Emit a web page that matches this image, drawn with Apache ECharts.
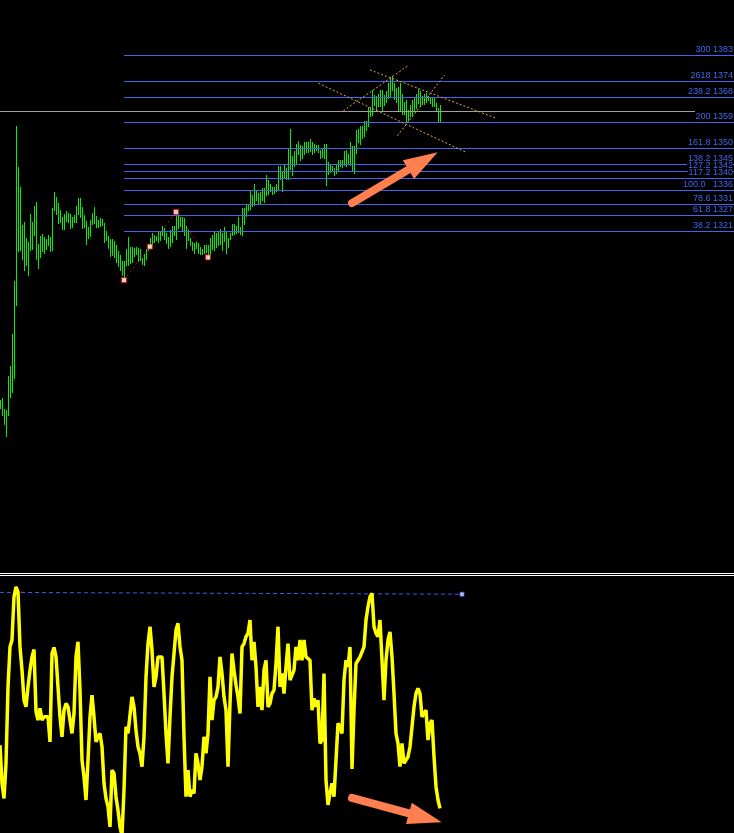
<!DOCTYPE html>
<html><head><meta charset="utf-8">
<script src="https://cdn.jsdelivr.net/npm/echarts@6/dist/echarts.min.js"></script>
<style>html,body{margin:0;padding:0;background:#000;overflow:hidden}#c{width:734px;height:833px}</style>
</head><body><div id="c"></div>
<script>
// ---- main price bars (one per bar, high / low) ----
const barHigh = [
1261.6,1262.3,1258.4,1258.1,1270.0,1273.6,1284.8,1303.5,1358.1,1343.6,
1336.6,1323.2,1324.3,1318.6,1317.2,1327.1,1324.3,1329.9,1331.3,1316.5,
1319.3,1320.0,1319.0,1318.3,1319.7,1319.0,1329.2,1334.8,1333.1,1330.9,
1328.5,1326.0,1327.1,1328.1,1327.4,1327.1,1326.0,1326.7,1329.9,1332.7,
1332.7,1329.5,1326.7,1324.6,1322.5,1325.0,1327.4,1329.5,1326.4,1325.0,
1325.7,1325.3,1323.9,1321.1,1319.3,1318.3,1318.3,1317.6,1316.2,1314.1,
1312.6,1310.5,1310.5,1314.8,1319.0,1315.5,1315.5,1315.1,1315.5,1315.1,
1314.8,1311.6,1313.0,1314.8,1316.2,1318.6,1320.4,1319.7,1319.3,1320.7,
1320.7,1322.8,1322.1,1320.4,1319.0,1321.4,1322.8,1322.8,1327.1,1327.4,
1326.0,1326.0,1325.7,1322.8,1321.4,1318.6,1317.2,1316.9,1317.2,1316.9,
1315.5,1314.8,1316.2,1316.2,1316.2,1318.6,1319.7,1321.1,1320.4,1320.7,
1321.8,1320.4,1322.5,1320.7,1318.6,1320.4,1323.6,1323.6,1322.8,1326.0,
1322.5,1329.2,1329.2,1330.6,1330.6,1335.5,1333.8,1337.6,1335.5,1334.5,
1334.8,1336.2,1336.2,1340.8,1339.0,1337.6,1336.6,1336.6,1337.6,1344.0,
1344.0,1341.9,1344.3,1343.3,1350.0,1357.0,1347.5,1349.2,1351.7,1352.8,
1351.4,1351.0,1352.4,1352.4,1352.4,1353.5,1352.4,1351.7,1351.4,1351.4,
1349.6,1350.0,1351.7,1351.7,1345.4,1344.7,1344.0,1343.3,1344.3,1346.1,
1346.1,1346.1,1349.2,1349.6,1348.2,1352.4,1351.0,1351.0,1356.6,1357.0,
1358.1,1358.1,1359.8,1359.8,1364.7,1364.4,1370.7,1369.0,1368.6,1369.3,
1370.7,1370.7,1369.0,1370.4,1373.2,1374.9,1375.6,1373.2,1371.4,1371.8,
1373.2,1369.3,1366.5,1367.2,1363.7,1365.4,1367.2,1367.9,1369.3,1371.1,
1370.4,1368.6,1369.3,1369.7,1368.6,1368.3,1368.3,1367.9,1366.1,1364.4,
1365.4];
const barLow = [
1258.8,1256.3,1253.2,1248.9,1256.3,1262.7,1264.4,1269.3,1295.0,1314.1,
1314.4,1311.2,1307.4,1309.1,1305.6,1314.4,1314.8,1319.7,1311.2,1308.1,
1311.9,1314.1,1313.3,1314.8,1316.2,1314.1,1314.4,1328.5,1327.1,1323.9,
1324.3,1321.8,1321.8,1324.6,1324.3,1322.1,1322.5,1324.3,1324.3,1327.1,
1326.0,1322.1,1322.5,1316.5,1318.6,1319.3,1323.6,1323.9,1322.5,1322.5,
1322.8,1323.2,1317.2,1317.9,1315.1,1312.3,1312.6,1311.9,1310.2,1308.8,
1307.4,1305.6,1303.8,1309.1,1309.1,1309.8,1310.2,1312.3,1313.0,1310.5,
1310.9,1309.5,1309.1,1311.2,1314.4,1315.1,1316.2,1317.2,1317.9,1317.2,
1317.9,1319.7,1318.3,1316.9,1315.1,1315.8,1317.2,1319.7,1318.3,1322.1,
1322.8,1321.4,1319.7,1315.1,1317.9,1316.2,1314.4,1313.3,1315.1,1313.3,
1313.0,1313.0,1313.3,1313.7,1311.2,1312.6,1314.8,1314.4,1315.5,1316.2,
1316.5,1314.4,1317.6,1313.3,1315.5,1318.3,1319.7,1320.0,1320.4,1320.7,
1320.0,1319.7,1323.6,1326.4,1328.5,1328.8,1329.9,1330.2,1332.0,1330.6,
1330.9,1332.0,1331.3,1333.8,1334.1,1335.2,1334.1,1334.5,1335.2,1335.9,
1339.4,1335.2,1340.1,1339.4,1339.4,1342.9,1340.8,1344.0,1344.7,1348.2,
1346.1,1346.8,1348.2,1348.9,1348.9,1349.2,1348.2,1348.9,1349.6,1348.9,
1346.8,1347.1,1346.8,1337.3,1341.2,1341.9,1342.2,1340.8,1341.5,1342.6,
1344.0,1343.6,1344.3,1344.0,1345.0,1344.3,1342.6,1341.5,1348.5,1352.4,
1351.7,1353.8,1354.5,1356.6,1358.1,1361.6,1361.9,1365.4,1363.7,1365.1,
1365.1,1363.7,1365.4,1366.5,1367.9,1368.3,1370.7,1367.6,1366.5,1363.3,
1363.3,1362.3,1362.3,1359.5,1360.2,1361.6,1361.9,1363.7,1364.4,1366.1,
1365.1,1365.8,1365.8,1366.5,1367.2,1366.1,1365.1,1365.1,1363.3,1359.5,
1359.5];

// ---- oscillator (lower pane) ----
const indValues = [
34.3,19.4,13.5,27.2,57.1,72.7,75.4,92.3,96.2,94.2,
72.7,63.6,51.9,49.3,57.1,63.6,68.8,71.7,47.4,44.1,
48.7,44.1,45.4,45.4,45.4,35.6,70.1,72.5,68.8,57.1,
45.4,37.6,48.0,50.6,49.3,44.1,38.9,46.7,68.8,74.7,
55.8,28.5,22.0,12.9,28.5,45.4,53.9,45.4,35.6,37.6,
38.9,33.7,19.4,13.5,10.3,2.4,24.6,23.3,14.2,8.9,
2.4,-1,16.8,41.5,38.9,38.9,53.2,49.3,40.2,33.7,
31.1,25.9,37.6,61.0,74.0,80.6,71.4,57.1,61.0,68.8,
69.5,68.8,54.5,38.9,27.2,45.4,61.0,70.1,79.3,81.9,
72.7,67.5,37.6,14.2,24.6,14.2,16.8,15.5,31.1,27.2,
20.7,25.9,37.6,31.1,38.9,61.0,44.1,51.9,53.2,57.1,
68.8,62.3,53.2,48.0,25.9,50.6,70.1,63.6,57.8,53.2,
46.7,72.7,74.0,76.7,78.0,83.2,
67.5,74.7,64.9,49.3,57.1,48.0,63.6,67.5,49.3,50.6,
54.5,55.8,66.2,80.6,57.1,62.3,54.5,64.9,74.0,59.7,
59.7,63.6,72.7,67.5,75.4,67.5,75.4,68.8,68.8,67.5,
48.0,52.6,49.3,51.9,35.0,36.3,62.3,20.7,11.0,15.5,
19.4,14.2,28.5,42.8,41.5,38.9,59.7,67.5,64.9,72.7,
25.0,48.0,66.2,67.5,68.8,68.8,72.7,83.2,88.4,92.3,
93.6,80.6,78.0,76.7,83.2,67.5,51.9,67.5,75.4,78.6,
68.8,54.5,38.9,35.0,25.9,35.0,27.2,28.5,29.8,33.7,
41.5,49.3,54.5,56.5,54.5,45.4,46.7,48.0,36.3,42.8,
44.1,29.8,18.1,12.9,9.6];

// ---- Fibonacci expansion levels ----
const fibLabels = ['300 1383','2618 1374','238.2 1368','200 1359','161.8 1350','138.2 1345',
                   '127.2 1342','117.2 1340','100.0   1336','78.6 1331','61.8 1327','38.2 1321'];
const fibPrices = [1383.0,1373.9,1368.3,1359.4,1350.3,1344.7,1342.2,1339.7,1335.5,1330.6,1326.7,1321.1];
const fibStart = 62;

const bidLine = [0, 1363.3, 347.5, 1363.3];
const zigzagPts = [[62,1303.8],[75,1315.6],[88,1327.8],[104,1311.8]];
const trendLines = [
  [159.2,1373.1,233.0,1348.8],
  [185.0,1377.8,248.0,1360.8],
  [171.7,1363.4,204.5,1379.5],
  [198.7,1354.6,222.3,1376.0]];
const indLevelLine = [0, 94.0, 231, 93.3];
const arrowMain = [[176,1330.9,218.85,1348.8]];
const arrowInd = [[176,13.7,220.85,4.2]];

const FIB = '#3f66ec', GREEN = '#00f000', ORANGE = '#e8a33a', ARROW = '#ff7f50';

function segRender(style) {
  return function (params, api) {
    const a = api.coord([api.value(0), api.value(1)]);
    const b = api.coord([api.value(2), api.value(3)]);
    let y1 = a[1], y2 = b[1];
    if (Math.abs(y1 - y2) < 0.01) { y1 = y2 = Math.round(y1) + 0.5; }
    return { type: 'line', shape: { x1: a[0], y1: y1, x2: b[0], y2: y2 }, style: Object.assign({}, style) };
  };
}
function arrowRender(params, api) {
  const p1 = api.coord([api.value(0), api.value(1)]);
  const p2 = api.coord([api.value(2), api.value(3)]);
  const dx = p2[0] - p1[0], dy = p2[1] - p1[1];
  const L = Math.sqrt(dx * dx + dy * dy);
  const ux = dx / L, uy = dy / L, px = -uy, py = ux;
  const hl = 34, hw = 11;
  const bx = p2[0] - ux * hl, by = p2[1] - uy * hl;
  return { type: 'group', children: [
    { type: 'line', shape: { x1: p1[0], y1: p1[1], x2: bx + ux * 3, y2: by + uy * 3 },
      style: { stroke: ARROW, lineWidth: 8, lineCap: 'round' } },
    { type: 'polygon', shape: { points: [[p2[0], p2[1]], [bx + px * hw, by + py * hw], [bx - px * hw, by - py * hw]] },
      style: { fill: ARROW } }
  ]};
}

const chart = echarts.init(document.getElementById('c'), null, { renderer: 'canvas' });
const hiddenY = { type: 'value', show: false, splitLine: { show: false } };
chart.setOption({
  backgroundColor: '#000',
  animation: false,
  grid: [
    { left: 0, right: 0, top: 0, height: 573 },
    { left: 0, right: 0, top: 575, height: 258 }
  ],
  xAxis: [
    { type: 'value', gridIndex: 0, min: 0, max: 367, position: 'bottom',
      axisLine: { show: true, onZero: false, lineStyle: { color: '#fff', width: 1 } },
      axisTick: { show: false }, axisLabel: { show: false }, splitLine: { show: false } },
    { type: 'value', gridIndex: 1, min: 0, max: 367, position: 'top',
      axisLine: { show: true, onZero: false, lineStyle: { color: '#fff', width: 1 } },
      axisTick: { show: false }, axisLabel: { show: false }, splitLine: { show: false } }
  ],
  yAxis: [
    Object.assign({ gridIndex: 0, min: 1200.7, max: 1402.4 }, hiddenY),
    Object.assign({ gridIndex: 1, min: 0, max: 100.8 }, hiddenY)
  ],
  series: [
    { type: 'custom', name: 'zigzag', xAxisIndex: 0, yAxisIndex: 0,
      data: zigzagPts.slice(0, -1).map((p, i) => [p[0], p[1], zigzagPts[i + 1][0], zigzagPts[i + 1][1]]),
      encode: { x: [0, 2], y: [1, 3] },
      renderItem: segRender({ stroke: '#e00000', lineWidth: 1, lineDash: [2, 3] }) },
    { type: 'custom', name: 'bars', xAxisIndex: 0, yAxisIndex: 0,
      data: barHigh.map((h, i) => [i, h, barLow[i]]),
      encode: { x: 0, y: [1, 2] },
      renderItem: function (params, api) {
        const a = api.coord([api.value(0), api.value(1)]);
        const b = api.coord([api.value(0), api.value(2)]);
        const x = Math.round(a[0]) + 0.5;
        return { type: 'line', shape: { x1: x, y1: Math.round(a[1]), x2: x, y2: Math.round(b[1]) + 1 },
                 style: { stroke: GREEN, lineWidth: 1 } };
      } },
    { type: 'custom', name: 'fibo', xAxisIndex: 0, yAxisIndex: 0,
      data: fibPrices.map((p, i) => [fibStart, p, i]),
      encode: { x: 0, y: 1 },
      renderItem: function (params, api) {
        const i = api.value(2);
        const a = api.coord([api.value(0), api.value(1)]);
        const cs = params.coordSys;
        const y = Math.round(a[1]) + 0.5;
        const right = cs.x + cs.width;
        return { type: 'group', children: [
          { type: 'line', shape: { x1: Math.round(a[0]), y1: y, x2: right, y2: y }, style: { stroke: FIB, lineWidth: 1 } },
          { type: 'text', style: { text: fibLabels[i], x: right - 1, y: y - 1.5, align: 'right', verticalAlign: 'bottom',
              fill: FIB, font: '9px "Liberation Sans"', backgroundColor: '#000', padding: [0, 0, 0, 1] } }
        ]};
      } },
    { type: 'custom', name: 'bid', xAxisIndex: 0, yAxisIndex: 0,
      data: [bidLine], encode: { x: [0, 2], y: [1, 3] },
      renderItem: segRender({ stroke: '#a0a0a0', lineWidth: 1 }) },
    { type: 'custom', name: 'trend', xAxisIndex: 0, yAxisIndex: 0,
      data: trendLines, encode: { x: [0, 2], y: [1, 3] },
      renderItem: segRender({ stroke: ORANGE, lineWidth: 1, lineDash: [2, 2] }) },
    { type: 'scatter', name: 'pivots', xAxisIndex: 0, yAxisIndex: 0,
      data: zigzagPts, symbol: 'rect', symbolSize: 5,
      itemStyle: { color: '#fff', borderColor: '#ff0000', borderWidth: 1 } },
    { type: 'custom', name: 'arrow1', xAxisIndex: 0, yAxisIndex: 0,
      data: arrowMain, encode: { x: [0, 2], y: [1, 3] }, renderItem: arrowRender },
    { type: 'custom', name: 'level', xAxisIndex: 1, yAxisIndex: 1,
      data: [indLevelLine], encode: { x: [0, 2], y: [1, 3] },
      renderItem: segRender({ stroke: '#3b5cf0', lineWidth: 1, lineDash: [4, 3] }) },
    { type: 'line', name: 'osc', xAxisIndex: 1, yAxisIndex: 1,
      data: indValues.map((v, i) => [i, v]), showSymbol: false, clip: true,
      lineStyle: { color: '#ffff00', width: 3.5 } },
    { type: 'scatter', name: 'levelEnd', xAxisIndex: 1, yAxisIndex: 1,
      data: [[indLevelLine[2], indLevelLine[3]]], symbol: 'rect', symbolSize: 4,
      itemStyle: { color: '#fff', borderColor: '#3b5cf0', borderWidth: 1 } },
    { type: 'custom', name: 'arrow2', xAxisIndex: 1, yAxisIndex: 1,
      data: arrowInd, encode: { x: [0, 2], y: [1, 3] }, renderItem: arrowRender }
  ]
});
</script></body></html>
